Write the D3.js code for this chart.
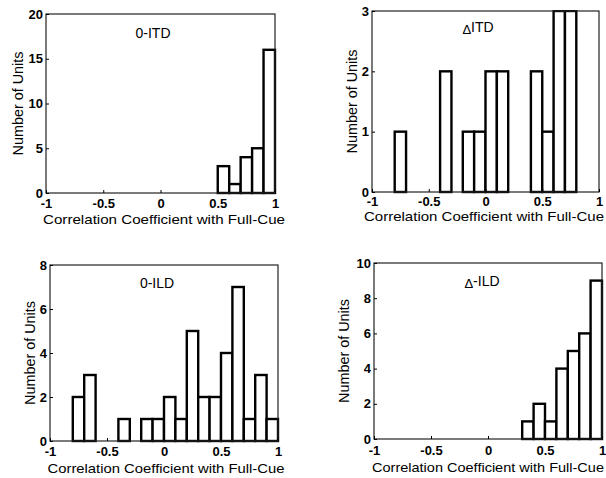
<!DOCTYPE html>
<html>
<head>
<meta charset="utf-8">
<script src="https://cdn.jsdelivr.net/npm/d3@7"></script>
<style>
  body { margin: 0; background: #fff; }
  text { font-family: "Liberation Sans", Arial, sans-serif; fill: #000; }
</style>
</head>
<body>
<script>
// bin lower edges (width 0.1) for all four histograms
const binStarts = [-1, -0.9, -0.8, -0.7, -0.6, -0.5, -0.4, -0.3, -0.2, -0.1,
                   0, 0.1, 0.2, 0.3, 0.4, 0.5, 0.6, 0.7, 0.8, 0.9];
const binWidth = 0.1;

const zeroItd  = [0, 0, 0, 0, 0, 0, 0, 0, 0, 0, 0, 0, 0, 0, 0, 3, 1, 4, 5, 16];
const deltaItd = [0, 0, 1, 0, 0, 0, 2, 0, 1, 1, 2, 2, 0, 0, 2, 1, 3, 3, 0, 0];
const zeroIld  = [0, 0, 2, 3, 0, 0, 1, 0, 1, 1, 2, 1, 5, 2, 2, 4, 7, 1, 3, 1];
const deltaIld = [0, 0, 0, 0, 0, 0, 0, 0, 0, 0, 0, 0, 0, 1, 2, 1, 4, 5, 6, 9];

const xTicks = [-1, -0.5, 0, 0.5, 1];
const xTickLabels = ['-1', '-0.5', '0', '0.5', '1'];
const xLabel = 'Correlation Coefficient with Full-Cue';
const yLabel = 'Number of Units';

const panels = [
  { title: ['', '0-ITD'], counts: zeroItd,  yMax: 20, yTicks: [0, 5, 10, 15, 20] },
  { title: ['Δ', 'ITD'],  counts: deltaItd, yMax: 3,  yTicks: [0, 1, 2, 3] },
  { title: ['', '0-ILD'], counts: zeroIld,  yMax: 8,  yTicks: [0, 2, 4, 6, 8] },
  { title: ['Δ', '-ILD'], counts: deltaIld, yMax: 10, yTicks: [0, 2, 4, 6, 8, 10] }
];

// plot boxes in page pixels, plus title / label placement
const boxes = [
  { x0: 46,  x1: 275, y0: 14,  y1: 193, tx: 153, ty: 38,  pad: 6, xlx: 164, xly: 224, xlw: 242, ylx: 18 },
  { x0: 372, x1: 599, y0: 11,  y1: 192, tx: 478, ty: 34,  pad: 5, xlx: 484, xly: 221, xlw: 240, ylx: 352 },
  { x0: 50,  x1: 278, y0: 265, y1: 441, tx: 157, ty: 288, pad: 6, xlx: 166, xly: 473, xlw: 237, ylx: 30 },
  { x0: 374, x1: 602, y0: 263, y1: 439, tx: 482, ty: 288, pad: 7, xlx: 488, xly: 472, xlw: 232, ylx: 344 }
];

const svg = d3.select('body')
  .append('svg')
  .attr('width', 606)
  .attr('height', 478);

panels.forEach((p, i) => {
  const b = boxes[i];
  const g = svg.append('g');

  const x = d3.scaleLinear().domain([-1, 1]).range([b.x0, b.x1]);
  const y = d3.scaleLinear().domain([0, p.yMax]).range([b.y1, b.y0]);

  const data = binStarts.map((s, k) => ({ start: s, count: p.counts[k] }));

  const clipId = 'clip' + i;
  g.append('clipPath').attr('id', clipId)
    .append('rect')
    .attr('x', b.x0 - 2).attr('y', b.y0 - 1)
    .attr('width', b.x1 - b.x0 + 4).attr('height', b.y1 - b.y0 + 3);

  g.append('g')
    .attr('clip-path', `url(#${clipId})`)
    .selectAll('rect')
    .data(data)
    .enter()
    .append('rect')
    .attr('x', d => x(d.start))
    .attr('y', d => y(d.count))
    .attr('width', d => x(d.start + binWidth) - x(d.start))
    .attr('height', d => y(0) - y(d.count))
    .attr('fill', '#fff')
    .attr('stroke', '#000')
    .attr('stroke-width', 2.4);

  // axes box
  g.append('rect')
    .attr('x', b.x0).attr('y', b.y0)
    .attr('width', b.x1 - b.x0).attr('height', b.y1 - b.y0)
    .attr('fill', 'none')
    .attr('stroke', '#222')
    .attr('stroke-width', 1.2);

  const xAxis = d3.axisBottom(x)
    .tickValues(xTicks)
    .tickFormat((d, k) => xTickLabels[k])
    .tickSizeInner(-3)
    .tickSizeOuter(0)
    .tickPadding(b.pad);

  const yAxis = d3.axisLeft(y)
    .tickValues(p.yTicks)
    .tickFormat(d3.format('d'))
    .tickSizeInner(-3)
    .tickSizeOuter(0)
    .tickPadding(3);

  const gx = g.append('g')
    .attr('transform', `translate(0,${b.y1})`)
    .call(xAxis);
  const gy = g.append('g')
    .attr('transform', `translate(${b.x0},0)`)
    .call(yAxis);

  [gx, gy].forEach(a => {
    a.select('.domain').remove();
    a.selectAll('line').attr('stroke', '#000');
    a.selectAll('text')
      .attr('font-size', 13)
      .attr('font-weight', 'bold')
      .attr('fill', '#000');
  });

  g.append('text')
    .attr('x', b.xlx)
    .attr('y', b.xly)
    .attr('text-anchor', 'middle')
    .attr('font-size', 13)
    .attr('textLength', b.xlw)
    .attr('lengthAdjust', 'spacingAndGlyphs')
    .text(xLabel);

  g.append('text')
    .attr('transform', `translate(${b.ylx + 5},${(b.y0 + b.y1) / 2}) rotate(-90)`)
    .attr('text-anchor', 'middle')
    .attr('font-size', 14)
    .attr('textLength', 104)
    .attr('lengthAdjust', 'spacingAndGlyphs')
    .text(yLabel);

  const t = g.append('text')
    .attr('x', b.tx)
    .attr('y', b.ty)
    .attr('text-anchor', 'middle')
    .attr('font-size', 14);
  if (p.title[0]) {
    t.append('tspan').attr('font-size', 13).text(p.title[0]);
  }
  t.append('tspan')
    .attr('dy', p.title[0] ? -2 : 0)
    .text(p.title[1]);
});
</script>
</body>
</html>
